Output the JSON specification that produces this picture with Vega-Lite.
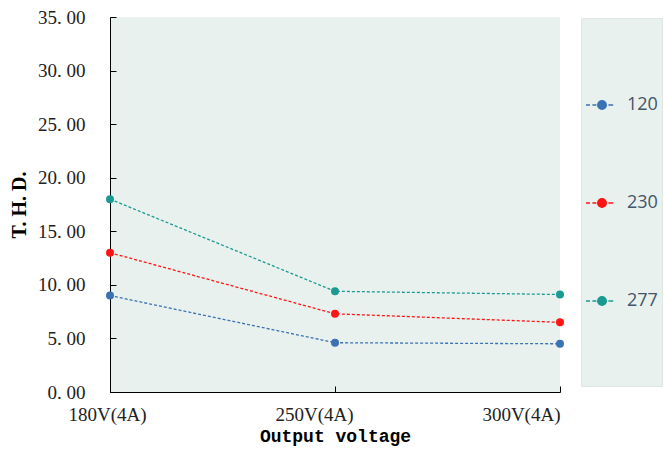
{
  "$schema": "https://vega.github.io/schema/vega-lite/v6.json",
  "autosize": {"type": "none"},
  "padding": {"left": 110, "top": 17, "right": 104, "bottom": 60},
  "width": 450,
  "height": 375,
  "background": "#ffffff",
  "config": {
    "view": {"fill": "#e9f1ee", "stroke": null}
  },
  "data": {
    "values": [
      {"voltage": "180V(4A)", "series": "120", "thd": 9.0},
      {"voltage": "250V(4A)", "series": "120", "thd": 4.6},
      {"voltage": "300V(4A)", "series": "120", "thd": 4.5},
      {"voltage": "180V(4A)", "series": "230", "thd": 13.0},
      {"voltage": "250V(4A)", "series": "230", "thd": 7.3},
      {"voltage": "300V(4A)", "series": "230", "thd": 6.5},
      {"voltage": "180V(4A)", "series": "277", "thd": 18.0},
      {"voltage": "250V(4A)", "series": "277", "thd": 9.4},
      {"voltage": "300V(4A)", "series": "277", "thd": 9.1}
    ]
  },
  "mark": {
    "type": "line",
    "strokeDash": [3, 2],
    "strokeWidth": 1.3,
    "point": {"filled": true, "size": 64, "opacity": 1}
  },
  "encoding": {
    "x": {
      "field": "voltage",
      "type": "ordinal",
      "scale": {"type": "point", "padding": 0},
      "sort": ["180V(4A)", "250V(4A)", "300V(4A)"],
      "axis": {
        "title": "Output voltage",
        "titleFont": "Liberation Mono",
        "titleFontSize": 18,
        "titleFontWeight": "bold",
        "titleColor": "#000000",
        "titlePadding": 3,
        "labelAngle": 0,
        "labelFont": "Liberation Serif",
        "labelFontSize": 19,
        "labelColor": "#222222",
        "labelPadding": 19,
        "labelAlign": {"expr": "datum.index == 1 ? 'right' : 'center'"},
        "labelOffset": {"expr": "datum.index == 0.5 ? -21 : (datum.index == 0 ? -3 : 0)"},
        "domainColor": "#000000",
        "tickColor": "#000000",
        "tickSize": -6,
        "grid": false
      }
    },
    "y": {
      "field": "thd",
      "type": "quantitative",
      "scale": {"domain": [0, 35], "nice": false},
      "axis": {
        "title": "T. H. D.",
        "titleFont": "Liberation Serif",
        "titleFontSize": 20,
        "titleFontWeight": "bold",
        "titleColor": "#000000",
        "titlePadding": 8,
        "values": [0, 5, 10, 15, 20, 25, 30, 35],
        "labelExpr": "replace(format(datum.value, '.2f'), '.', '. ')",
        "labelFont": "Liberation Serif",
        "labelFontSize": 19,
        "labelColor": "#222222",
        "labelPadding": 31,
        "domainColor": "#000000",
        "tickColor": "#000000",
        "tickSize": -6,
        "grid": false
      }
    },
    "color": {
      "field": "series",
      "type": "nominal",
      "scale": {"domain": ["120", "230", "277"], "range": ["#3a72b4", "#ff1414", "#1a9a92"]},
      "legend": {
        "orient": "none",
        "legendX": 471,
        "legendY": 1,
        "title": " ",
        "titleFontSize": 2,
        "titlePadding": 64,
        "padding": 4,
        "fillColor": "#e9f1ee",
        "strokeColor": "#e0e8e4",
        "rowPadding": -3,
        "symbolType": "M-1,0H-0.75M-0.6,0H-0.35M0.4,0H0.7M0.27,0A0.27,0.27,0,1,1,-0.27,0A0.27,0.27,0,1,1,0.27,0M0,4.85",
        "symbolSize": 1024,
        "symbolStrokeWidth": 1.3,
        "symbolDash": [],
        "symbolOpacity": 1,
        "symbolOffset": 0,
        "labelOffset": 8,
        "labelFont": "Open Sans",
        "labelFontSize": 18,
        "labelColor": "#44546a",
        "encode": {
          "symbols": {"update": {"fill": {"scale": "color", "field": "value"}, "stroke": {"scale": "color", "field": "value"}}}
        }
      }
    }
  }
}
